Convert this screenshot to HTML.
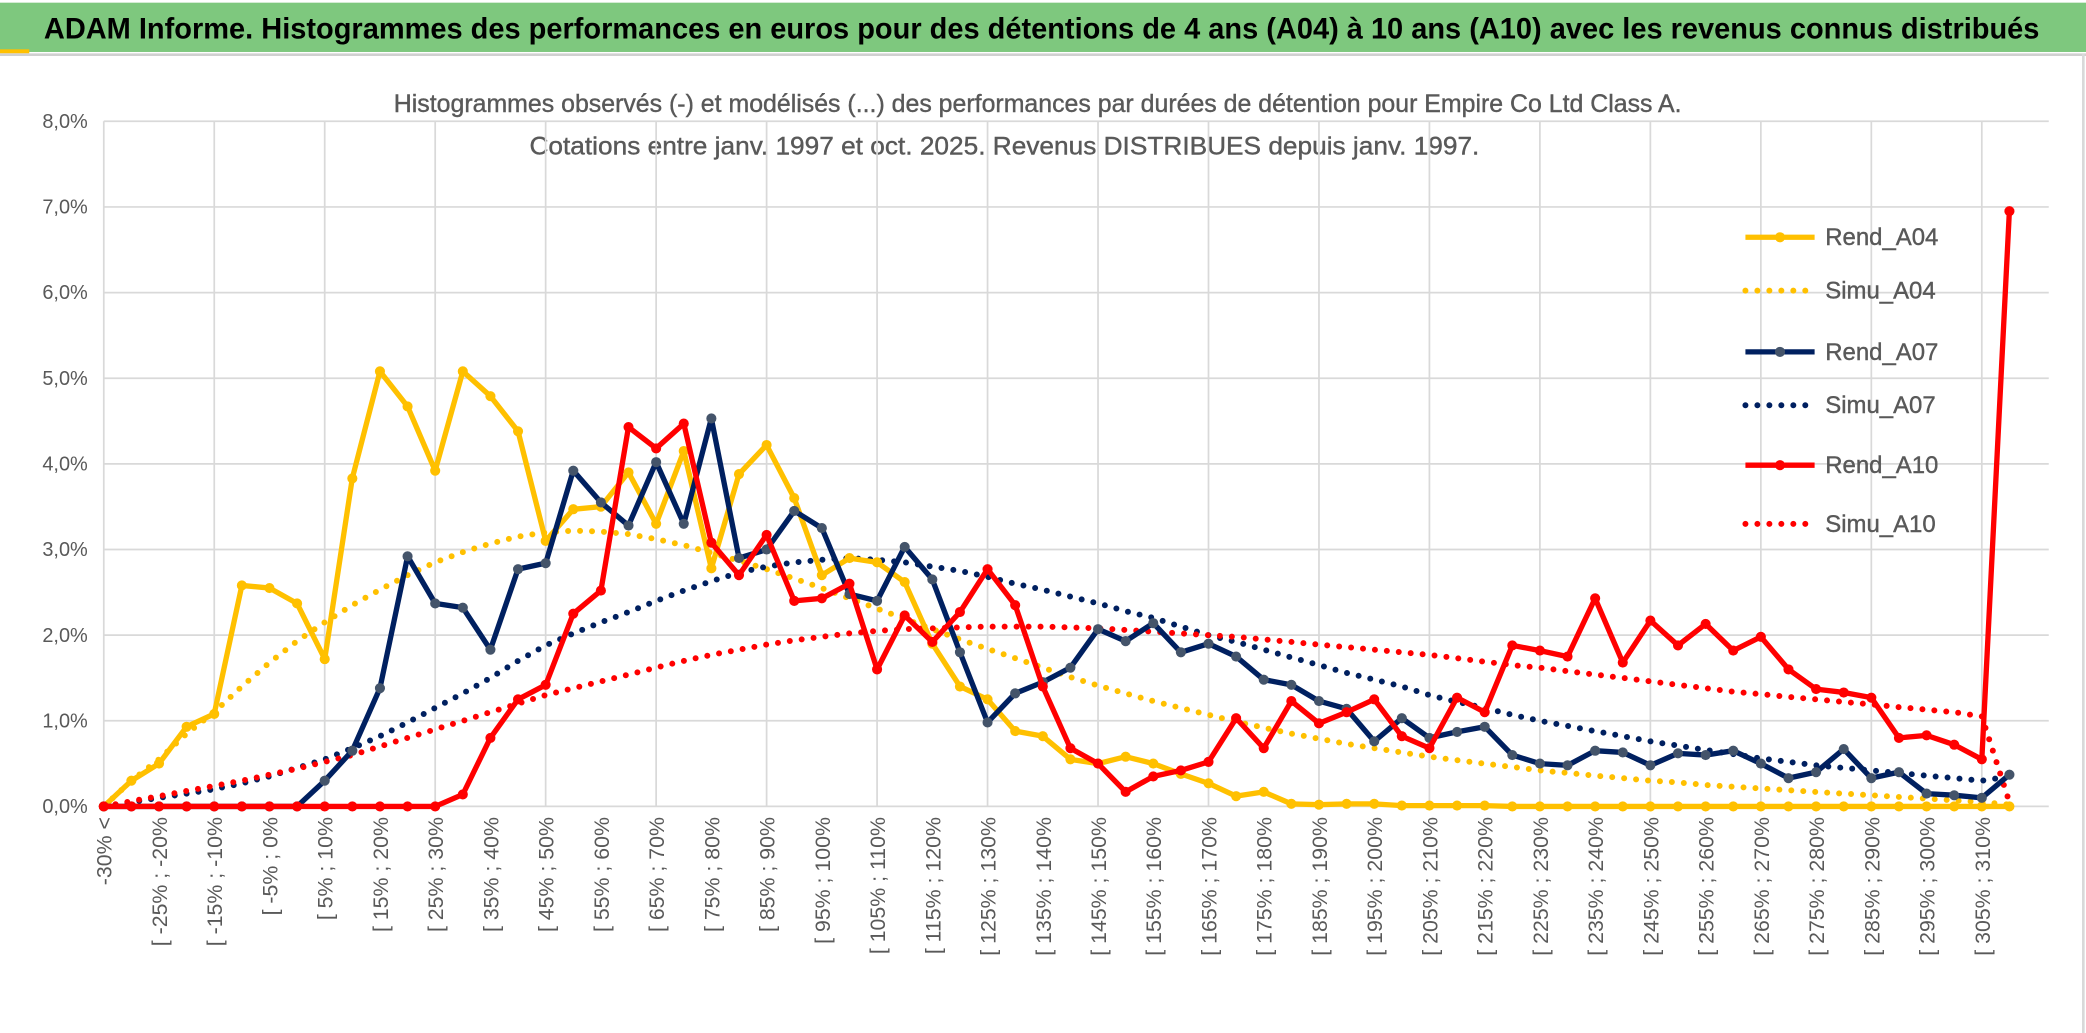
<!DOCTYPE html>
<html><head><meta charset="utf-8"><style>
html,body{margin:0;padding:0;background:#fff;}
svg{display:block;font-family:"Liberation Sans",sans-serif;}
</style></head><body>
<svg id="chart" width="2086" height="1033" viewBox="0 0 1568 775" preserveAspectRatio="none" xmlns="http://www.w3.org/2000/svg">
<rect x="0" y="0" width="1568" height="775" fill="#fff"/>
<rect x="0" y="2" width="1568" height="37" fill="#7ec87e"/>
<rect x="0" y="37" width="22" height="3" fill="#ffc000"/>
<line x1="0" y1="41" x2="1568" y2="41" stroke="#d0d0d0" stroke-width="2"/>
<text x="783" y="29" text-anchor="middle" font-size="22" font-weight="bold" fill="#000" textLength="1500" lengthAdjust="spacingAndGlyphs">ADAM Informe. Histogrammes des performances en euros pour des détentions de 4 ans (A04) à 10 ans (A10) avec les revenus connus distribués</text>
<text x="780" y="84" text-anchor="middle" font-size="19" fill="#595959" stroke="#595959" stroke-width="0.3" textLength="968" lengthAdjust="spacingAndGlyphs">Histogrammes observés (-) et modélisés (...) des performances par durées de détention pour Empire Co Ltd Class A.</text>
<text x="755" y="116" text-anchor="middle" font-size="19" fill="#595959" stroke="#595959" stroke-width="0.3" textLength="714" lengthAdjust="spacingAndGlyphs">Cotations entre janv. 1997 et oct. 2025. Revenus DISTRIBUES depuis janv. 1997.</text>
<g id="grid"></g>
<g id="ylabels"></g>
<g id="xlabels"></g>
<g id="series"></g>
<g id="legend"></g>
<line x1="1566" y1="40" x2="1566" y2="775" stroke="#d9d9d9" stroke-width="2"/>
</svg>
<script>
const categories = ["-30% <","[ -30% ; -25%","[ -25% ; -20%","[ -20% ; -15%","[ -15% ; -10%","[ -10% ; -5%","[ -5% ; 0%","[ 0% ; 5%","[ 5% ; 10%","[ 10% ; 15%","[ 15% ; 20%","[ 20% ; 25%","[ 25% ; 30%","[ 30% ; 35%","[ 35% ; 40%","[ 40% ; 45%","[ 45% ; 50%","[ 50% ; 55%","[ 55% ; 60%","[ 60% ; 65%","[ 65% ; 70%","[ 70% ; 75%","[ 75% ; 80%","[ 80% ; 85%","[ 85% ; 90%","[ 90% ; 95%","[ 95% ; 100%","[ 100% ; 105%","[ 105% ; 110%","[ 110% ; 115%","[ 115% ; 120%","[ 120% ; 125%","[ 125% ; 130%","[ 130% ; 135%","[ 135% ; 140%","[ 140% ; 145%","[ 145% ; 150%","[ 150% ; 155%","[ 155% ; 160%","[ 160% ; 165%","[ 165% ; 170%","[ 170% ; 175%","[ 175% ; 180%","[ 180% ; 185%","[ 185% ; 190%","[ 190% ; 195%","[ 195% ; 200%","[ 200% ; 205%","[ 205% ; 210%","[ 210% ; 215%","[ 215% ; 220%","[ 220% ; 225%","[ 225% ; 230%","[ 230% ; 235%","[ 235% ; 240%","[ 240% ; 245%","[ 245% ; 250%","[ 250% ; 255%","[ 255% ; 260%","[ 260% ; 265%","[ 265% ; 270%","[ 270% ; 275%","[ 275% ; 280%","[ 280% ; 285%","[ 285% ; 290%","[ 290% ; 295%","[ 295% ; 300%","[ 300% ; 305%","[ 305% ; 310%","[ 310% ; 315%"];
const rendA04 = [0,0.3,0.5,0.93,1.08,2.58,2.55,2.37,1.72,3.83,5.08,4.67,3.92,5.08,4.79,4.38,3.1,3.47,3.5,3.9,3.3,4.15,2.78,3.88,4.22,3.6,2.7,2.9,2.85,2.62,1.9,1.4,1.25,0.88,0.82,0.55,0.5,0.58,0.5,0.38,0.27,0.12,0.17,0.03,0.02,0.03,0.03,0.01,0.01,0.01,0.01,0,0,0,0,0,0,0,0,0,0,0,0,0,0,0,0,0,0,0];
const simuA04 = [0,0.3,0.55,0.85,1.1,1.4,1.68,1.93,2.15,2.35,2.53,2.7,2.85,2.97,3.07,3.15,3.2,3.22,3.21,3.18,3.12,3.05,2.96,2.87,2.77,2.66,2.55,2.43,2.31,2.19,2.07,1.95,1.84,1.73,1.62,1.51,1.41,1.32,1.23,1.15,1.07,0.99,0.92,0.85,0.79,0.73,0.68,0.63,0.58,0.54,0.5,0.46,0.42,0.39,0.36,0.33,0.3,0.28,0.25,0.23,0.21,0.19,0.17,0.15,0.13,0.11,0.09,0.07,0.05,0.02];
const rendA07 = [0,0,0,0,0,0,0,0,0.3,0.65,1.38,2.92,2.37,2.32,1.83,2.77,2.84,3.92,3.55,3.28,4.02,3.3,4.53,2.9,3.0,3.45,3.25,2.48,2.4,3.03,2.65,1.8,0.98,1.32,1.45,1.62,2.07,1.93,2.14,1.8,1.9,1.75,1.48,1.42,1.23,1.14,0.76,1.03,0.8,0.87,0.93,0.6,0.5,0.48,0.65,0.63,0.48,0.62,0.6,0.65,0.5,0.33,0.4,0.67,0.33,0.4,0.15,0.13,0.1,0.37];
const simuA07 = [0,0.05,0.1,0.15,0.2,0.27,0.35,0.45,0.55,0.68,0.82,0.98,1.15,1.32,1.5,1.7,1.88,2.02,2.15,2.27,2.4,2.52,2.63,2.73,2.8,2.85,2.88,2.9,2.88,2.85,2.8,2.75,2.68,2.6,2.53,2.45,2.37,2.28,2.2,2.1,2.0,1.92,1.83,1.74,1.65,1.56,1.48,1.4,1.3,1.22,1.15,1.07,1.0,0.94,0.88,0.82,0.76,0.71,0.66,0.61,0.56,0.52,0.48,0.45,0.42,0.39,0.36,0.33,0.3,0.35];
const rendA10 = [0,0,0,0,0,0,0,0,0,0,0,0,0,0.14,0.8,1.25,1.42,2.25,2.52,4.43,4.18,4.47,3.08,2.7,3.17,2.4,2.43,2.6,1.6,2.23,1.92,2.27,2.77,2.35,1.4,0.68,0.5,0.17,0.35,0.42,0.52,1.03,0.68,1.23,0.97,1.1,1.25,0.82,0.68,1.27,1.1,1.88,1.82,1.75,2.43,1.68,2.17,1.88,2.13,1.82,1.98,1.6,1.37,1.33,1.27,0.8,0.83,0.72,0.55,6.95];
const simuA10 = [0,0.06,0.12,0.18,0.24,0.3,0.37,0.44,0.52,0.6,0.7,0.8,0.9,1.0,1.1,1.2,1.3,1.38,1.46,1.54,1.62,1.7,1.77,1.83,1.89,1.94,1.98,2.02,2.05,2.07,2.08,2.09,2.1,2.1,2.1,2.09,2.08,2.06,2.04,2.02,2.0,1.98,1.95,1.92,1.89,1.86,1.83,1.8,1.77,1.73,1.69,1.65,1.62,1.58,1.54,1.5,1.46,1.42,1.38,1.34,1.31,1.28,1.25,1.22,1.19,1.16,1.13,1.1,1.05,0.05];
const yTicks = [0,1,2,3,4,5,6,7,8];
const yTickLabels = ["0,0%","1,0%","2,0%","3,0%","4,0%","5,0%","6,0%","7,0%","8,0%"];

const NS="http://www.w3.org/2000/svg";
const X0=78, DX=20.76, Y0=605, YS=64.25, XR=1540;
function xPos(i){return X0+i*DX;}
function yPos(v){return Y0-v*YS;}
function mk(tag,attrs,parent){const e=document.createElementNS(NS,tag);for(const k in attrs)e.setAttribute(k,attrs[k]);parent.appendChild(e);return e;}

const grid=document.getElementById('grid');
yTicks.forEach((t,k)=>{
  const l=mk('line',{x1:X0,x2:XR,y1:yPos(t),y2:yPos(t),stroke:'#d9d9d9','stroke-width':1.3},grid);
  
  
  const tx=mk('text',{x:66,y:yPos(t)+5,'text-anchor':'end','font-size':15,fill:'#595959'},document.getElementById('ylabels'));
  tx.textContent=yTickLabels[k];
  
  
});
for(let i=4;i<categories.length;i+=4){
  const l=mk('line',{x1:xPos(i),x2:xPos(i),y1:yPos(8),y2:Y0,stroke:'#d9d9d9','stroke-width':1.3},grid);
  
  
}
const ax=mk('line',{x1:X0,x2:X0,y1:yPos(8),y2:Y0,stroke:'#d9d9d9','stroke-width':1.3},grid);



const xl=document.getElementById('xlabels');
categories.forEach((c,i)=>{
  if(i%2) return;
  const x=xPos(i)+6, y=613;
  const t=mk('text',{x:x,y:y,'text-anchor':'end','font-size':16,fill:'#595959',transform:`rotate(-90 ${x} ${y})`},xl);
  t.textContent=c;
  
  
});

const ser=document.getElementById('series');
function pathD(arr){return arr.map((v,i)=>(i?'L':'M')+xPos(i).toFixed(1)+' '+yPos(v).toFixed(1)).join(' ');}
function dotted(arr,color,name){
  const p=mk('path',{d:pathD(arr),fill:'none',stroke:color,'stroke-width':4.5,'stroke-linecap':'round','stroke-dasharray':'0 9'},ser);
  
  
}
function solid(arr,color,mcolor,name){
  const p=mk('path',{d:pathD(arr),fill:'none',stroke:color,'stroke-width':4,'stroke-linejoin':'round'},ser);
  
  
  arr.forEach((v,i)=>{
    const c=mk('circle',{cx:xPos(i),cy:yPos(v),r:3.8,fill:mcolor},ser);
    
    
  });
}
dotted(simuA04,'#ffc000','simu-a04-line');
dotted(simuA07,'#002060','simu-a07-line');
dotted(simuA10,'#ff0000','simu-a10-line');
solid(rendA04,'#ffc000','#ffc000','rend-a04-line');
solid(rendA07,'#002060','#44546a','rend-a07-line');
solid(rendA10,'#ff0000','#ff0000','rend-a10-line');

const legendItems=[["Rend_A04","#ffc000",false,178],["Simu_A04","#ffc000",true,218],["Rend_A07","#002060",false,264],["Simu_A07","#002060",true,304],["Rend_A10","#ff0000",false,349],["Simu_A10","#ff0000",true,393]];
const lg=document.getElementById('legend');
legendItems.forEach(it=>{
  const g=mk('g',{},lg);
  
  
  const a={x1:1312,x2:1364,y1:it[3],y2:it[3],stroke:it[1],'stroke-width':it[2]?4.5:4};
  if(it[2]){a['stroke-dasharray']='0 9';a['stroke-linecap']='round';}
  mk('line',a,g);
  if(!it[2]) mk('circle',{cx:1338,cy:it[3],r:3.8,fill:it[1]==='#002060'?'#44546a':it[1]},g);
  const t=mk('text',{x:1372,y:it[3]+6,'font-size':18,fill:'#595959',stroke:'#595959','stroke-width':0.3},g);
  t.textContent=it[0];
});
</script>
</body></html>
